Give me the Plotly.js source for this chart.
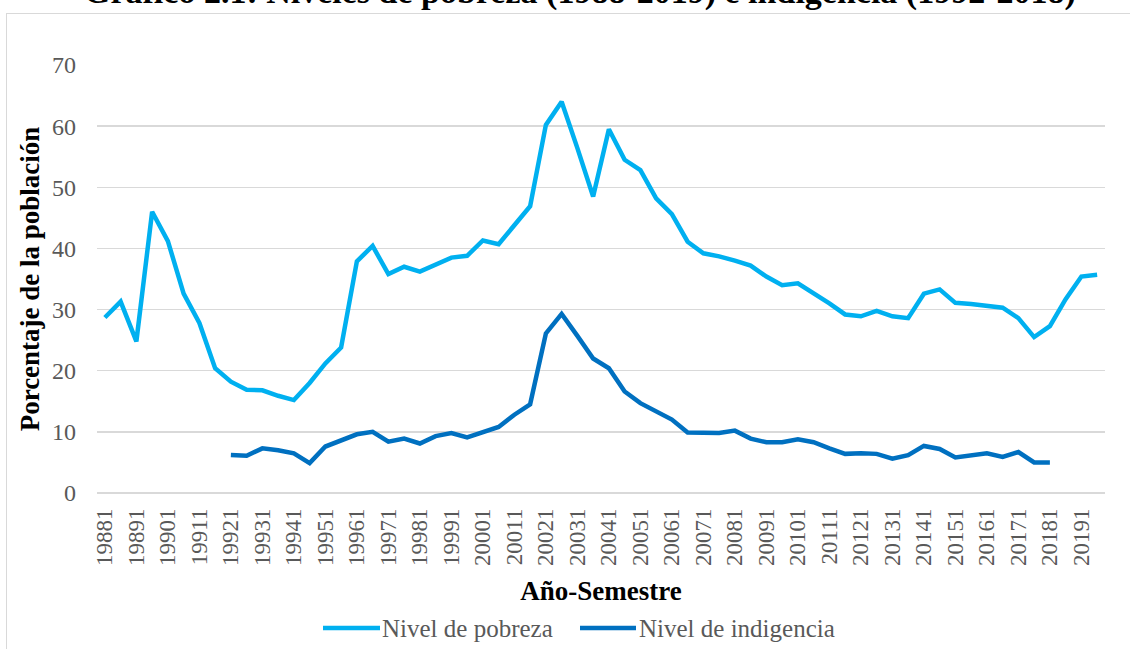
<!DOCTYPE html>
<html>
<head>
<meta charset="utf-8">
<script src="https://cdn.plot.ly/plotly-3.0.1.min.js"></script>
<style>
  html, body { margin: 0; padding: 0; overflow: hidden; background: #fff; }
  #chart { width: 1130px; height: 649px; position: absolute; left: 0; top: 0; }
  #frame { position: absolute; left: 6px; top: 13px; width: 1200px; height: 700px;
           border: 1.5px solid #d9d9d9; pointer-events: none; }
</style>
</head>
<body>
<div id="chart"></div>
<div id="frame"></div>
<script>
const categories = [
  "19881","19882","19891","19892","19901","19902","19911","19912",
  "19921","19922","19931","19932","19941","19942","19951","19952",
  "19961","19962","19971","19972","19981","19982","19991","19992",
  "20001","20002","20011","20012","20021","20022","20031","20032",
  "20041","20042","20051","20052","20061","20062","20071","20072",
  "20081","20082","20091","20092","20101","20102","20111","20112",
  "20121","20122","20131","20132","20141","20142","20151","20152",
  "20161","20162","20171","20172","20181","20182","20191","20192"
];

const pobreza = [
  28.7, 31.3, 24.8, 46.0, 41.2, 32.6, 27.8, 20.4,
  18.2, 16.9, 16.8, 15.9, 15.2, 18.0, 21.2, 23.8,
  37.9, 40.4, 35.8, 37.0, 36.2, 37.3, 38.5, 38.8,
  41.3, 40.7, 43.8, 46.9, 60.2, 64.0, 56.4, 48.5,
  59.5, 54.5, 52.8, 48.2, 45.6, 41.1, 39.2, 38.7,
  38.0, 37.2, 35.4, 34.0, 34.3, 32.7, 31.0, 29.2,
  28.9, 29.8, 28.9, 28.6, 32.6, 33.3, 31.1, 30.9,
  30.6, 30.3, 28.6, 25.5, 27.3, 31.7, 35.4, 35.7
];

const indigencia = [
  null, null, null, null, null, null, null, null,
  6.2, 6.1, 7.3, 7.0, 6.5, 4.9, 7.6, 8.6,
  9.6, 10.0, 8.4, 8.9, 8.1, 9.3, 9.8, 9.1,
  9.9, 10.8, 12.8, 14.5, 26.1, 29.3, 25.7, 22.0,
  20.4, 16.6, 14.7, 13.3, 12.0, 9.9, 9.9, 9.8,
  10.2, 8.9, 8.3, 8.3, 8.8, 8.3, 7.3, 6.4,
  6.5, 6.4, 5.6, 6.2, 7.7, 7.2, 5.8, 6.2,
  6.5, 5.9, 6.7, 5.0, 5.0, null, null, null
];

const tickLabels = categories.filter((c, i) => i % 2 === 0);

const seriesNames = ["Nivel de pobreza", "Nivel de indigencia"];
const seriesColors = ["#00B0F0", "#0070C0"];
const chartTitle = "Gráfico 2.1: Niveles de pobreza (1988-2019) e indigencia (1992-2018)";
const xTitle = "Año-Semestre";
const yTitle = "Porcentaje de la población";

const serif = "'Liberation Serif', 'Times New Roman', serif";

const traces = [
  { type: "scatter", mode: "lines", name: seriesNames[0], x: categories, y: pobreza,
    line: { color: seriesColors[0], width: 4.5 }, connectgaps: false },
  { type: "scatter", mode: "lines", name: seriesNames[1], x: categories, y: indigencia,
    line: { color: seriesColors[1], width: 4.5 }, connectgaps: false }
];

// plot area: x 97..1105 px, y 65..493 px
const px2x = p => (p - 97) / 1008;
const px2y = p => (493 - p) / 428;
const legY = px2y(628);

const layout = {
  width: 1130, height: 649,
  margin: { l: 97, r: 25, t: 65, b: 156 },
  paper_bgcolor: "#fff", plot_bgcolor: "#fff",
  showlegend: false,
  xaxis: {
    type: "category", range: [-0.5, 63.5],
    tickmode: "array", tickvals: tickLabels, ticktext: tickLabels,
    tickangle: -90, ticks: "", showgrid: false, showline: false, zeroline: false,
    tickfont: { family: serif, size: 23, color: "#595959" },
    ticklabelstandoff: 10, automargin: false,
    title: { text: xTitle, font: { family: serif, size: 27, color: "#000", weight: "bold" }, standoff: 16 }
  },
  yaxis: {
    range: [0, 70], dtick: 10, tick0: 0,
    showgrid: true, gridcolor: "#d9d9d9", gridwidth: 1.3,
    zeroline: true, zerolinecolor: "#d9d9d9", zerolinewidth: 1.3,
    showline: false, ticks: "",
    tickfont: { family: serif, size: 24, color: "#595959" },
    ticklabelstandoff: 20, automargin: false,
    title: { text: yTitle, font: { family: serif, size: 27, color: "#000", weight: "bold" }, standoff: 4 }
  },
  shapes: [
    { type: "line", xref: "paper", yref: "paper", x0: px2x(323), x1: px2x(380), y0: legY, y1: legY,
      line: { color: seriesColors[0], width: 4.5 } },
    { type: "line", xref: "paper", yref: "paper", x0: px2x(580), x1: px2x(636), y0: legY, y1: legY,
      line: { color: seriesColors[1], width: 4.5 } }
  ],
  annotations: [
    { text: chartTitle, xref: "paper", yref: "paper", x: px2x(580), y: px2y(-8),
      xanchor: "center", yanchor: "middle", showarrow: false,
      font: { family: serif, size: 34, color: "#000", weight: "bold" } },
    { text: seriesNames[0], xref: "paper", yref: "paper", x: px2x(380), y: legY,
      xanchor: "left", yanchor: "middle", showarrow: false,
      font: { family: serif, size: 25, color: "#595959" } },
    { text: seriesNames[1], xref: "paper", yref: "paper", x: px2x(637), y: legY,
      xanchor: "left", yanchor: "middle", showarrow: false,
      font: { family: serif, size: 25, color: "#595959" } }
  ]
};

Plotly.newPlot("chart", traces, layout, { displayModeBar: false, staticPlot: true });
</script>
</body>
</html>
